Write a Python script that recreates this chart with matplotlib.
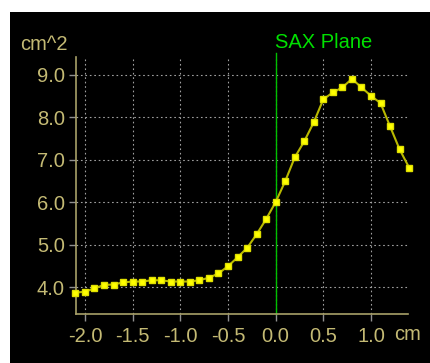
import numpy as np
import matplotlib
matplotlib.use('Agg')
import matplotlib.pyplot as plt
from matplotlib.patches import Rectangle

plt.rcParams['font.family'] = ['Liberation Sans', 'DejaVu Sans']

# distance along the axis (cm) and area (cm^2)
pos = [-2.1, -2.0, -1.9, -1.8, -1.7, -1.6, -1.5, -1.4, -1.3, -1.2, -1.1, -1.0,
       -0.9, -0.8, -0.7, -0.6, -0.5, -0.4, -0.3, -0.2, -0.1, 0.0, 0.1, 0.2,
       0.3, 0.4, 0.5, 0.6, 0.7, 0.8, 0.9, 1.0, 1.1, 1.2, 1.3, 1.4]
area = [3.87, 3.89, 3.97, 4.05, 4.06, 4.11, 4.13, 4.13, 4.16, 4.16, 4.13, 4.13,
        4.13, 4.16, 4.22, 4.32, 4.49, 4.70, 4.92, 5.24, 5.60, 6.00, 6.49, 7.05,
        7.43, 7.88, 8.42, 8.58, 8.70, 8.90, 8.70, 8.50, 8.33, 7.78, 7.24, 6.81]
xticks = [-2.0, -1.5, -1.0, -0.5, 0.0, 0.5, 1.0]
yticks = [4.0, 5.0, 6.0, 7.0, 8.0, 9.0]

khaki = '#c4ba74'
axcol = '#a8a068'
fs = 14.5

fig = plt.figure(figsize=(4.3, 3.63), dpi=100)
fig.patch.set_facecolor('white')
fig.patches.append(Rectangle((10/430, 0), 1, (363-12)/363, transform=fig.transFigure,
                             facecolor='black', edgecolor='none', zorder=-5))

ax = fig.add_axes([76/430, 49/363, 332/430, 257/363])
ax.set_facecolor('black')
ax.set_xlim(-2.094, 1.388)
ax.set_ylim(3.366, 9.415)

for s in ['top', 'right']:
    ax.spines[s].set_visible(False)
for s in ['left', 'bottom']:
    ax.spines[s].set_color(axcol)
    ax.spines[s].set_linewidth(1.2)

ax.set_xticks(xticks)
ax.set_yticks(yticks)
ax.set_xticklabels(['%.1f' % t for t in xticks])
ax.set_yticklabels(['%.1f' % t for t in yticks])
ax.tick_params(colors='#909090', labelcolor=khaki, labelsize=fs, length=5, width=1)
ax.tick_params(axis='x', pad=4)
ax.tick_params(axis='y', pad=3)
ax.grid(True, color='#a0a0a0', linestyle=(0, (1.5, 2.5)), linewidth=0.8)
ax.set_axisbelow(True)

ax.axvline(0, ymin=0, ymax=1.015, color='#00c000', linewidth=1, clip_on=False, zorder=2)
ax.plot(pos, area, color='#b8b800', linewidth=1.5, marker='s', markersize=5,
        markerfacecolor='#ffff00', markeredgecolor='#e0e000', zorder=3, clip_on=False)

fig.text(20/430, 1 - 44/363, 'cm^2', color=khaki, fontsize=fs, va='center', ha='left')
fig.text(394/430, 1 - 334/363, 'cm', color=khaki, fontsize=fs, va='center', ha='left')
fig.text(275/430, 1 - 42/363, 'SAX Plane', color='#00e000', fontsize=fs, va='center', ha='left')

fig.savefig('out.png', dpi=100, facecolor=fig.get_facecolor())
